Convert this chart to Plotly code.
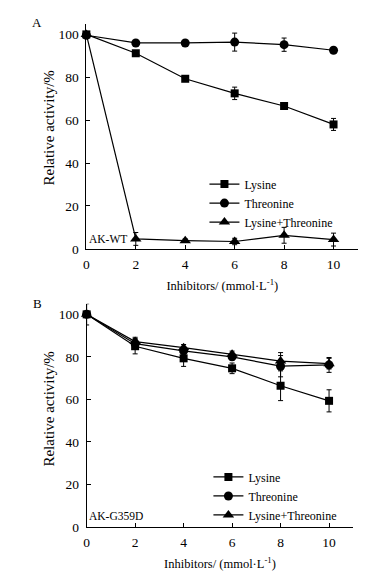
import plotly.graph_objects as go

# ---------------- data ----------------
conc = [0, 2, 4, 6, 8, 10]
x_ticks = [0, 2, 4, 6, 8, 10]
x_end_tick = [11]
y_ticks = [0, 20, 40, 60, 80, 100]
series_names = ["Lysine", "Threonine", "Lysine+Threonine"]

# Panel A: AK-WT
wt_lys = [100, 91.2, 79.3, 72.5, 66.6, 58.0]
wt_lys_err = [0.8, 1.0, 0.8, 2.9, 1.0, 2.8]
wt_thr = [99.6, 96.0, 96.0, 96.4, 95.2, 92.6]
wt_thr_err = [1.0, 0.8, 0.8, 4.2, 3.1, 1.0]
wt_lt = [100, 4.6, 3.8, 3.4, 6.3, 4.3]
wt_lt_err = [1.0, 3.0, 0.8, 1.5, 3.7, 3.0]

# Panel B: AK-G359D
mu_lys = [100, 85.0, 79.3, 74.6, 66.4, 59.3]
mu_lys_err = [5.0, 3.6, 3.8, 2.5, 7.0, 5.2]
mu_thr = [100, 86.2, 82.8, 80.0, 75.6, 76.2]
mu_thr_err = [1.0, 2.0, 1.5, 1.5, 5.0, 3.5]
mu_lt = [100, 87.2, 84.3, 81.2, 78.0, 76.8]
mu_lt_err = [1.0, 2.0, 1.5, 1.5, 4.0, 2.5]

symbols = ["square", "circle", "triangle-up"]
sizes = [8, 9, 10]

FONT = "Liberation Serif"
W, H = 391, 575

fig = go.Figure()

panels = [
    ("x", "y", "legend", [(wt_lys, wt_lys_err), (wt_thr, wt_thr_err), (wt_lt, wt_lt_err)]),
    ("x2", "y2", "legend2", [(mu_lys, mu_lys_err), (mu_thr, mu_thr_err), (mu_lt, mu_lt_err)]),
]
for xa, ya, lg, data in panels:
    for name, sym, sz, (vals, errs) in zip(series_names, symbols, sizes, data):
        fig.add_trace(go.Scatter(
            x=conc, y=vals, name=name, mode="lines+markers",
            xaxis=xa, yaxis=ya, legend=lg,
            line=dict(color="black", width=1.2),
            marker=dict(symbol=sym, size=sz, color="black"),
            error_y=dict(type="data", array=errs, visible=True,
                         color="black", thickness=1, width=2.5),
            cliponaxis=False,
        ))

def px_x(p):
    return p / W

def px_y(p):
    return 1 - p / H

axis_common = dict(
    showline=True, linecolor="black", linewidth=1, showgrid=False, zeroline=False,
    ticks="inside", ticklen=4, tickcolor="black", tickwidth=1,
    tickfont=dict(family=FONT, size=13.5, color="black"),
)
x_minor = dict(tickvals=x_end_tick, ticks="inside", ticklen=4, tickcolor="black",
               tickwidth=1, showgrid=False)

xtitle = "Inhibitors/ (mmol·L<sup>-1</sup>)"
ytitle = "Relative activity/%"

fig.update_layout(
    width=W, height=H,
    margin=dict(l=0, r=0, t=0, b=0),
    paper_bgcolor="white", plot_bgcolor="white",
    font=dict(family=FONT, size=12, color="black"),
    xaxis=dict(domain=[px_x(84), px_x(358)], range=[0, 11], tickvals=x_ticks,
               ticklabelstandoff=3, minor=x_minor,
               anchor="y", title=dict(text=xtitle, font=dict(size=12.5), standoff=10), **axis_common),
    yaxis=dict(domain=[px_y(252.3), px_y(24)], range=[0, 105], tickvals=y_ticks,
               ticklabelstandoff=4, anchor="x", **axis_common),
    xaxis2=dict(domain=[px_x(84.3), px_x(353)], range=[0, 11], tickvals=x_ticks,
                ticklabelstandoff=3, minor=x_minor,
                anchor="y2", title=dict(text=xtitle, font=dict(size=12.5), standoff=10), **axis_common),
    yaxis2=dict(domain=[px_y(534.3), px_y(308)], range=[0, 105], tickvals=y_ticks,
                ticklabelstandoff=4, anchor="x2", **axis_common),
    legend=dict(x=px_x(203), y=px_y(172), xanchor="left", yanchor="top",
                bgcolor="rgba(0,0,0,0)", font=dict(family=FONT, size=12),
                itemwidth=30, tracegroupgap=0),
    legend2=dict(x=px_x(207), y=px_y(469), xanchor="left", yanchor="top",
                 bgcolor="rgba(0,0,0,0)", font=dict(family=FONT, size=12),
                 itemwidth=30, tracegroupgap=0),
    showlegend=True,
)

ann_font = dict(family=FONT, size=11.5, color="black")
# panel letters
fig.add_annotation(text="A", x=px_x(34), y=px_y(23), xref="paper", yref="paper",
                   xanchor="center", yanchor="middle", showarrow=False,
                   font=dict(family=FONT, size=13, color="black"))
fig.add_annotation(text="B", x=px_x(35), y=px_y(308), xref="paper", yref="paper",
                   xanchor="center", yanchor="middle", showarrow=False,
                   font=dict(family=FONT, size=13, color="black"))
# strain labels
fig.add_annotation(text="AK-WT", x=px_x(85), y=px_y(242), xref="paper", yref="paper",
                   xanchor="left", yanchor="middle", showarrow=False, font=ann_font)
fig.add_annotation(text="AK-G359D", x=px_x(85), y=px_y(523), xref="paper", yref="paper",
                   xanchor="left", yanchor="middle", showarrow=False, font=ann_font)
# y-axis titles
for yc in (130, 415):
    fig.add_annotation(text=ytitle, x=px_x(46.7), y=px_y(yc), xref="paper", yref="paper",
                       xanchor="center", yanchor="middle", textangle=-90, showarrow=False,
                       font=dict(family=FONT, size=15, color="black"))

fig.write_html("out.html", config={"displayModeBar": False},
               post_script="document.body.style.margin='0';document.body.style.padding='0';"
                           "document.body.style.overflow='hidden';")
